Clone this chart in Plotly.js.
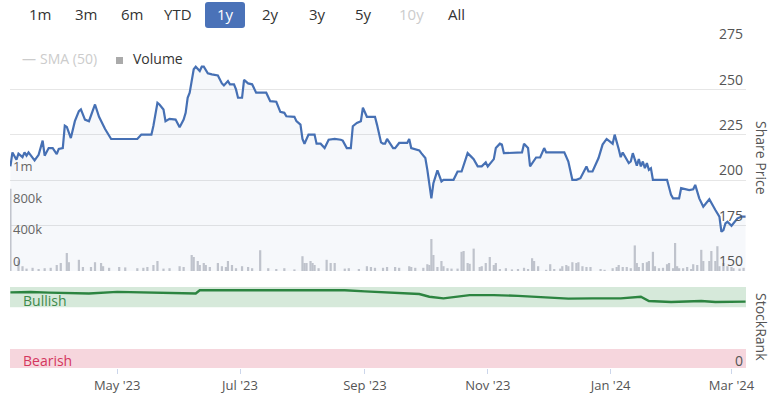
<!DOCTYPE html>
<html>
<head>
<meta charset="utf-8">
<script src="https://cdn.plot.ly/plotly-3.0.1.min.js"></script>
<style>html,body{margin:0;padding:0;background:#fff;}#chart{width:770px;height:393px;}</style>
</head>
<body>
<div id="chart"></div>
<script>
// ---- Data ----
var priceDates = ["2023-03-09","2023-03-10","2023-03-12","2023-03-13","2023-03-15","2023-03-16","2023-03-17","2023-03-18","2023-03-21","2023-03-23","2023-03-25","2023-03-26","2023-03-28","2023-03-30","2023-04-01","2023-04-02","2023-04-04","2023-04-05","2023-04-06","2023-04-08","2023-04-10","2023-04-12","2023-04-13","2023-04-15","2023-04-17","2023-04-20","2023-04-22","2023-04-25","2023-04-28","2023-05-11","2023-05-13","2023-05-18","2023-05-19","2023-05-21","2023-05-22","2023-05-24","2023-05-25","2023-05-27","2023-05-30","2023-06-01","2023-06-03","2023-06-04","2023-06-05","2023-06-06","2023-06-08","2023-06-09","2023-06-11","2023-06-12","2023-06-13","2023-06-15","2023-06-17","2023-06-20","2023-06-22","2023-06-23","2023-06-25","2023-06-26","2023-06-28","2023-06-29","2023-06-30","2023-07-02","2023-07-03","2023-07-05","2023-07-07","2023-07-09","2023-07-14","2023-07-16","2023-07-19","2023-07-20","2023-07-21","2023-07-23","2023-07-24","2023-07-28","2023-07-29","2023-07-31","2023-08-01","2023-08-02","2023-08-04","2023-08-07","2023-08-08","2023-08-10","2023-08-12","2023-08-14","2023-08-17","2023-08-20","2023-08-21","2023-08-23","2023-08-25","2023-08-26","2023-08-28","2023-08-30","2023-08-31","2023-09-02","2023-09-06","2023-09-07","2023-09-09","2023-09-10","2023-09-11","2023-09-12","2023-09-15","2023-09-16","2023-09-18","2023-09-22","2023-09-23","2023-09-24","2023-09-26","2023-09-28","2023-09-29","2023-10-01","2023-10-02","2023-10-03","2023-10-04","2023-10-05","2023-10-07","2023-10-09","2023-10-10","2023-10-15","2023-10-17","2023-10-19","2023-10-21","2023-10-22","2023-10-24","2023-10-25","2023-10-27","2023-10-29","2023-10-31","2023-11-01","2023-11-04","2023-11-05","2023-11-07","2023-11-08","2023-11-09","2023-11-18","2023-11-19","2023-11-21","2023-11-22","2023-11-25","2023-11-27","2023-11-29","2023-11-30","2023-12-09","2023-12-11","2023-12-13","2023-12-15","2023-12-17","2023-12-20","2023-12-21","2023-12-23","2023-12-26","2023-12-28","2023-12-30","2024-01-02","2024-01-03","2024-01-05","2024-01-06","2024-01-07","2024-01-10","2024-01-11","2024-01-12","2024-01-14","2024-01-15","2024-01-16","2024-01-17","2024-01-18","2024-01-19","2024-01-20","2024-01-21","2024-01-22","2024-01-29","2024-01-31","2024-02-01","2024-02-04","2024-02-05","2024-02-09","2024-02-11","2024-02-12","2024-02-14","2024-02-16","2024-02-19","2024-02-22","2024-02-24","2024-02-25","2024-02-26","2024-02-27","2024-02-28","2024-03-01","2024-03-03","2024-03-04","2024-03-06","2024-03-08"];
var priceValues = [207.6,215.3,211.3,214.6,212.7,215.3,213.5,215.3,210.9,214.0,221.8,213.5,217.7,217.7,214.4,217.2,217.7,230.0,229.3,223.2,232.5,238.0,239.0,233.4,232.5,241.7,234.9,228.2,222.7,222.7,225.1,225.1,230.0,242.6,241.7,238.9,232.5,233.8,233.4,229.2,233.4,237.1,245.4,248.2,261.1,262.5,260.1,262.5,262.5,258.9,258.3,257.7,253.3,252.2,254.6,252.8,252.8,250.0,245.4,245.4,255.2,253.3,252.8,248.2,248.2,243.5,243.2,240.8,237.6,237.1,235.2,234.9,232.5,230.6,222.7,220.1,225.1,225.1,220.1,220.1,217.7,222.3,222.7,222.3,221.8,217.7,217.7,229.7,231.5,232.5,239.9,234.9,234.9,230.6,220.8,220.1,220.1,222.7,217.7,217.7,220.5,220.5,222.7,217.7,217.2,216.4,214.9,212.2,205.7,197.4,190.0,198.3,205.4,199.3,200.2,200.2,204.8,204.8,211.3,214.9,212.7,211.6,207.6,207.6,209.8,207.6,211.6,217.7,220.1,219.6,214.9,215.3,220.1,217.7,207.6,212.5,212.5,217.7,215.3,215.3,210.3,200.2,200.2,201.1,207.6,204.8,204.8,212.2,219.6,222.7,220.1,225.1,217.2,212.7,215.3,209.4,210.3,214.9,208.0,211.6,207.6,210.3,206.6,209.4,205.7,206.6,200.2,200.2,191.9,190.0,190.0,195.6,194.6,195.0,197.4,190.0,185.4,189.5,183.6,179.9,171.6,172.5,176.2,177.1,174.9,178.0,179.0,179.9,179.9];

var volumeDates = ["2023-03-09","2023-03-13","2023-03-15","2023-03-17","2023-03-20","2023-03-23","2023-03-26","2023-03-29","2023-04-01","2023-04-03","2023-04-06","2023-04-07","2023-04-12","2023-04-14","2023-04-18","2023-04-20","2023-04-23","2023-04-24","2023-04-27","2023-05-02","2023-05-05","2023-05-11","2023-05-14","2023-05-16","2023-05-19","2023-05-21","2023-05-24","2023-05-27","2023-06-01","2023-06-03","2023-06-07","2023-06-08","2023-06-10","2023-06-11","2023-06-13","2023-06-14","2023-06-16","2023-06-20","2023-06-22","2023-06-24","2023-06-25","2023-06-27","2023-06-29","2023-07-02","2023-07-05","2023-07-07","2023-07-11","2023-07-15","2023-07-19","2023-07-23","2023-07-28","2023-08-01","2023-08-02","2023-08-03","2023-08-05","2023-08-06","2023-08-07","2023-08-09","2023-08-13","2023-08-15","2023-08-17","2023-08-22","2023-08-24","2023-08-29","2023-09-02","2023-09-04","2023-09-06","2023-09-10","2023-09-12","2023-09-16","2023-09-18","2023-09-23","2023-09-24","2023-09-26","2023-09-30","2023-10-02","2023-10-03","2023-10-04","2023-10-05","2023-10-07","2023-10-09","2023-10-10","2023-10-12","2023-10-14","2023-10-17","2023-10-19","2023-10-20","2023-10-22","2023-10-23","2023-10-25","2023-10-28","2023-10-29","2023-10-31","2023-11-02","2023-11-04","2023-11-05","2023-11-07","2023-11-10","2023-11-13","2023-11-16","2023-11-19","2023-11-21","2023-11-23","2023-11-24","2023-11-26","2023-11-30","2023-12-02","2023-12-04","2023-12-07","2023-12-08","2023-12-10","2023-12-11","2023-12-13","2023-12-15","2023-12-16","2023-12-18","2023-12-20","2023-12-22","2023-12-27","2023-12-29","2024-01-02","2024-01-04","2024-01-05","2024-01-07","2024-01-09","2024-01-11","2024-01-13","2024-01-14","2024-01-15","2024-01-17","2024-01-19","2024-01-20","2024-01-22","2024-01-23","2024-01-25","2024-01-27","2024-01-29","2024-01-30","2024-02-01","2024-02-02","2024-02-03","2024-02-04","2024-02-06","2024-02-08","2024-02-10","2024-02-11","2024-02-13","2024-02-15","2024-02-16","2024-02-19","2024-02-20","2024-02-22","2024-02-23","2024-02-24","2024-02-26","2024-02-28","2024-03-01","2024-03-02","2024-03-05","2024-03-07"];
var volumeValues = [1030000,130000,60000,30000,40000,25000,35000,40000,75000,100000,225000,110000,140000,50000,50000,110000,100000,60000,40000,50000,45000,35000,40000,50000,75000,125000,30000,35000,60000,50000,200000,175000,125000,75000,100000,75000,50000,100000,60000,50000,125000,75000,35000,60000,50000,35000,260000,35000,25000,35000,20000,185000,100000,100000,125000,100000,75000,35000,140000,100000,100000,30000,35000,25000,60000,50000,40000,40000,50000,50000,40000,60000,50000,40000,40000,85000,75000,400000,200000,50000,125000,60000,35000,30000,30000,240000,250000,100000,90000,280000,50000,60000,100000,175000,75000,100000,25000,35000,20000,25000,40000,25000,160000,125000,60000,15000,85000,25000,30000,60000,75000,60000,110000,100000,110000,60000,50000,50000,25000,15000,35000,50000,75000,50000,50000,35000,320000,100000,50000,100000,110000,125000,240000,60000,35000,40000,85000,100000,35000,350000,60000,35000,35000,50000,25000,85000,75000,265000,125000,125000,250000,125000,310000,60000,100000,60000,50000,35000,30000,40000];

var rankDates = ["2023-03-09","2023-03-19","2023-03-28","2023-04-08","2023-04-17","2023-05-01","2023-05-12","2023-05-21","2023-06-01","2023-06-09","2023-06-11","2023-07-04","2023-07-29","2023-08-22","2023-09-01","2023-09-16","2023-09-28","2023-10-03","2023-10-10","2023-10-23","2023-11-04","2023-11-16","2023-11-28","2023-12-11","2023-12-23","2024-01-06","2024-01-16","2024-01-20","2024-01-31","2024-02-15","2024-02-22","2024-03-08"];
var rankValues = [93.4,93.8,93,92.5,92,94,93.3,93,92.4,92,96,96,95.5,96,94.6,93,91.4,88,86,90,90,89,87.2,85.6,86,86,88,82.7,81.5,82.7,81.5,81.9];

var volumeTickVals = [0, 400000, 800000, 1200000];
var volumeTickText = ["0", "400k", "800k", "1m"];
var rangeButtons = ["1m","3m","6m","YTD","1y","2y","3y","5y","10y","All"];

// ---- Layout helpers (pixel -> paper) ----
var L = 10, T = 44, PW = 736, PH = 324;
function px(x){ return (x - L) / PW; }
function py(y){ return (T + PH - y) / PH; }

var FONT = "Open Sans, sans-serif";

var traces = [
  {
    type: "bar", x: volumeDates, y: volumeValues, xaxis: "x", yaxis: "y",
    marker: {color: "#c6c8ce", line: {width: 0}},
    width: 86400000 * 1.1, hoverinfo: "skip", showlegend: false
  },
  {
    type: "scatter", mode: "lines", x: priceDates, y: priceValues, xaxis: "x", yaxis: "y2",
    line: {color: "#4670b4", width: 2.2}, fill: "tozeroy", fillcolor: "rgba(70,112,180,0.05)",
    showlegend: false
  },
  {
    type: "scatter", mode: "lines", x: rankDates, y: rankValues, xaxis: "x", yaxis: "y3",
    line: {color: "#2c8440", width: 2.4}, showlegend: false
  }
];

var btnX = [40, 86, 132, 178, 225, 270, 317, 363, 411, 456];
var annotations = [];
rangeButtons.forEach(function(b, i){
  var col = "#333333";
  if (b === "1y") col = "#ffffff";
  if (b === "10y") col = "#cccccc";
  annotations.push({xref:"paper", yref:"paper", x: px(btnX[i]), y: py(14), text: b, showarrow:false,
    xanchor:"center", yanchor:"middle", font:{family:FONT, size:15, color:col}});
});
// legend
annotations.push({xref:"paper", yref:"paper", x: px(20), y: py(59), text: "—", showarrow:false, xanchor:"left", yanchor:"middle", font:{family:FONT, size:14, color:"#cccccc"}});
annotations.push({xref:"paper", yref:"paper", x: px(38), y: py(59), text: "SMA (50)", showarrow:false, xanchor:"left", yanchor:"middle", font:{family:FONT, size:14, color:"#cccccc"}});
annotations.push({xref:"paper", yref:"paper", x: px(131), y: py(59), text: "Volume", showarrow:false, xanchor:"left", yanchor:"middle", font:{family:FONT, size:14, color:"#333333"}});
// axis titles
annotations.push({xref:"paper", yref:"paper", x: px(762), y: py(158), text: "Share Price", showarrow:false, textangle:90, xanchor:"center", yanchor:"middle", font:{family:FONT, size:14, color:"#555555"}});
annotations.push({xref:"paper", yref:"paper", x: px(762), y: py(327), text: "StockRank", showarrow:false, textangle:90, xanchor:"center", yanchor:"middle", font:{family:FONT, size:14, color:"#555555"}});
// stockrank band labels
annotations.push({xref:"paper", yref:"paper", x: px(21), y: py(300), text: "Bullish", showarrow:false, xanchor:"left", yanchor:"middle", font:{family:FONT, size:14, color:"#3d8a4a"}});
annotations.push({xref:"paper", yref:"paper", x: px(21), y: py(360), text: "Bearish", showarrow:false, xanchor:"left", yanchor:"middle", font:{family:FONT, size:14, color:"#d4365e"}});
annotations.push({xref:"paper", yref:"paper", x: px(745), y: py(360), text: "0", showarrow:false, xanchor:"right", yanchor:"middle", font:{family:FONT, size:14, color:"#555555"}});

// rounded button path
var bx0 = px(205), bx1 = px(245), by0 = py(28), by1 = py(2), rx = 3/PW, ry = 3/PH;
var btnPath = "M " + (bx0+rx) + "," + by1 + " L " + (bx1-rx) + "," + by1 + " Q " + bx1 + "," + by1 + " " + bx1 + "," + (by1-ry) +
  " L " + bx1 + "," + (by0+ry) + " Q " + bx1 + "," + by0 + " " + (bx1-rx) + "," + by0 +
  " L " + (bx0+rx) + "," + by0 + " Q " + bx0 + "," + by0 + " " + bx0 + "," + (by0+ry) +
  " L " + bx0 + "," + (by1-ry) + " Q " + bx0 + "," + by1 + " " + (bx0+rx) + "," + by1 + " Z";

var shapes = [
  {type:"path", xref:"paper", yref:"paper", path: btnPath, fillcolor:"#4a72b8", line:{width:0}, layer:"below"},
  {type:"rect", xref:"paper", yref:"y3", x0:0, x1:1, y0:75, y1:100, fillcolor:"#d6e9da", line:{width:0}, layer:"below"},
  {type:"rect", xref:"paper", yref:"y3", x0:0, x1:1, y0:0, y1:23.5, fillcolor:"#f6d6dd", line:{width:0}, layer:"below"},
  // legend square
  {type:"rect", xref:"paper", yref:"paper", x0:px(116), x1:px(123), y0:py(64), y1:py(57), fillcolor:"#aaaaaa", line:{width:0}}
];

var layout = {
  width: 770, height: 393, autosize: false,
  margin: {l: L, r: 770 - L - PW, t: T, b: 393 - T - PH, pad: 0},
  paper_bgcolor: "#ffffff", plot_bgcolor: "rgba(0,0,0,0)",
  font: {family: FONT, size: 13, color: "#555555"},
  showlegend: false,
  xaxis: {
    type: "date", range: ["2023-03-08 19:00", "2024-03-08 05:00"], anchor: "y3",
    showgrid: false, zeroline: false, showline: false,
    tick0: "2023-05-01", dtick: "M2", tickformat: "%b '%y",
    ticks: "outside", ticklen: 5, tickcolor: "#ccd6eb", tickwidth: 1,
    tickfont: {family: FONT, size: 13, color: "#555555"}
  },
  yaxis: {
    domain: [py(271), 1], range: [0, 2840000], side: "left",
    showgrid: false, zeroline: false, showline: false,
    tickvals: volumeTickVals, ticktext: volumeTickText,
    ticklabelposition: "inside top", ticklabeloverflow: "allow", ticks: "",
    tickfont: {family: FONT, size: 13, color: "#666666"}
  },
  yaxis2: {
    overlaying: "y", side: "right", range: [150, 275], dtick: 25, tick0: 150,
    showgrid: true, gridcolor: "#e6e6e6", gridwidth: 1, zeroline: false, showline: false,
    ticklabelposition: "inside top", ticklabeloverflow: "allow", ticks: "",
    tickfont: {family: FONT, size: 14, color: "#555555"}
  },
  yaxis3: {
    domain: [0, py(287)], range: [0, 100], anchor: "x",
    showgrid: false, zeroline: false, showline: false, showticklabels: false, ticks: ""
  },
  shapes: shapes,
  annotations: annotations
};

Plotly.newPlot("chart", traces, layout, {displayModeBar: false, staticPlot: true});
</script>
</body>
</html>
